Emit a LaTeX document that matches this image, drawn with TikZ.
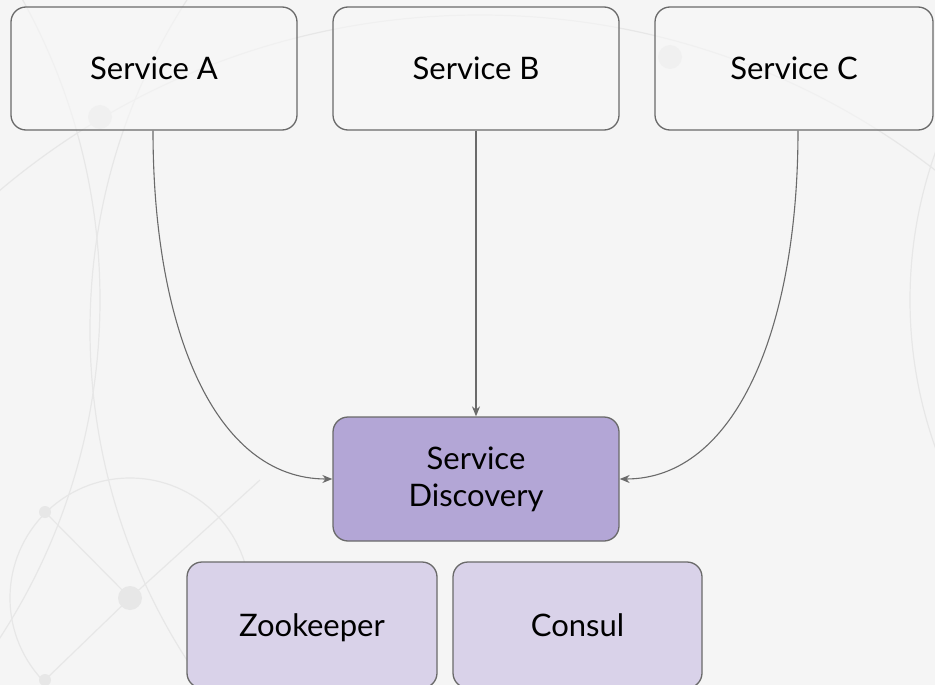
\documentclass[tikz,border=0pt]{standalone}
\usepackage{fontspec}
\setmainfont{Lato}
\usetikzlibrary{arrows.meta}
\definecolor{bg}{HTML}{F5F5F5}
\definecolor{deco}{HTML}{E7E7E7}
\definecolor{edge}{HTML}{6A6A6A}
\definecolor{sdfill}{HTML}{B3A6D6}
\definecolor{dbfill}{HTML}{D9D2E9}
\definecolor{svcfill}{HTML}{F7F7F7}
\begin{document}
\begin{tikzpicture}[x=1pt,y=-1pt,
  box/.style={draw=edge, line width=1.3pt, rounded corners=15pt, align=center,
    font=\fontsize{31}{37}\selectfont, text=black, inner sep=0pt},
  oneline/.style={text height=22pt, text depth=0pt},
  svc/.style={box, oneline, fill=svcfill, fill opacity=0.6, text opacity=1},
  db/.style={box, oneline, fill=dbfill},
  conn/.style={draw=edge, line width=1.1pt, -{Stealth[length=10pt,width=8pt]}},
  decoline/.style={draw=deco, line width=1.2pt},
  decodot/.style={fill=deco}]
\useasboundingbox (0,0) rectangle (935,685);
\fill[bg] (0,0) rectangle (935,685);
% decorative background
\begin{scope}
\clip (0,0) rectangle (935,685);
\draw[decoline] (480,760) circle (745);
\draw[decoline] (130,598) circle (120);
\draw[decoline] (700,330) circle (610);
\draw[decoline] (-520,300) circle (620);
\draw[decoline] (1350,300) circle (440);
\draw[decoline] (45,512) -- (130,598) -- (45,680);
\draw[decoline] (130,598) -- (260,480);
\fill[decodot] (130,598) circle (12);
\fill[decodot] (45,512) circle (6);
\fill[decodot] (45,680) circle (6);
\fill[decodot] (100,117) circle (12);
\fill[decodot] (670,57) circle (12);
\end{scope}
% nodes
\node[svc, minimum width=286pt, minimum height=123pt] (A) at (154,68.5) {Service A};
\node[svc, minimum width=286pt, minimum height=123pt] (B) at (476,68.5) {Service B};
\node[svc, minimum width=278pt, minimum height=123pt] (C) at (794,68.5) {Service C};
\node[box, fill=sdfill, minimum width=286pt, minimum height=124pt] (SD) at (476,479) {Service\\Discovery};
\node[db, minimum width=250pt, minimum height=126pt] (ZK) at (312,625) {Zookeeper};
\node[db, minimum width=249pt, minimum height=126pt] (CO) at (577.5,625) {Consul};
% connectors
\draw[conn] ([xshift=-1pt]A.south) .. controls (153,330) and (215,479) .. (SD.west);
\draw[conn] (B.south) -- (SD.north);
\draw[conn] ([xshift=4pt]C.south) .. controls (798,330) and (735,479) .. (SD.east);
\end{tikzpicture}
\end{document}
